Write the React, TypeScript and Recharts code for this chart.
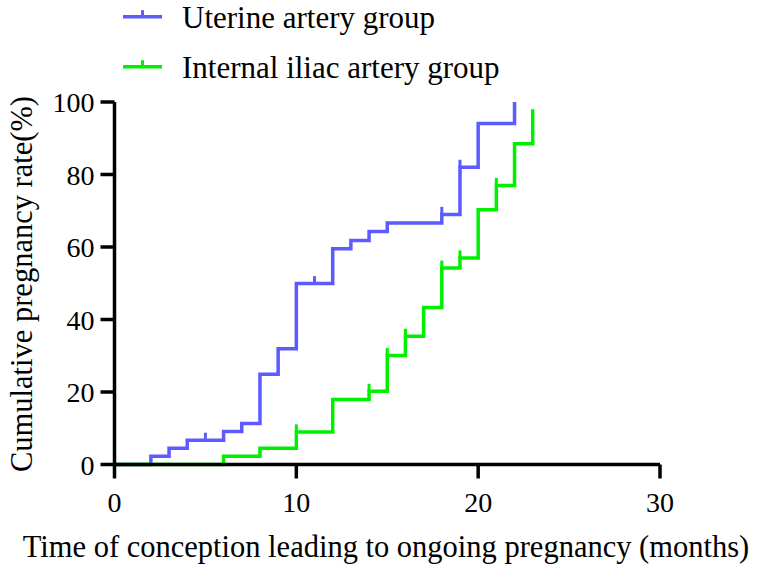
import { ComposedChart, Line, Scatter, XAxis, YAxis, Legend } from 'recharts';

const BLUE = '#5b5bff';
const GREEN = '#00f000';
const FONT = '"Liberation Serif", serif';

// Kaplan-Meier style steps: [month, cumulative %]
const uterineSteps = [
  { x: 0, y: 0 }, { x: 2, y: 2.3 }, { x: 3, y: 4.5 }, { x: 4, y: 6.7 },
  { x: 6, y: 9.1 }, { x: 7, y: 11.3 }, { x: 8, y: 24.9 }, { x: 9, y: 31.9 },
  { x: 10, y: 49.9 }, { x: 12, y: 59.5 }, { x: 13, y: 61.8 }, { x: 14, y: 64.3 },
  { x: 15, y: 66.6 }, { x: 18, y: 69.0 }, { x: 19, y: 82.0 }, { x: 20, y: 94.1 },
  { x: 22, y: 100 },
];
const uterineCensored = [
  { x: 5, y: 6.7 }, { x: 11, y: 49.9 }, { x: 18, y: 69.0 }, { x: 19, y: 82.0 },
];

const iliacSteps = [
  { x: 0, y: 0 }, { x: 6, y: 2.3 }, { x: 8, y: 4.5 }, { x: 10, y: 9.0 },
  { x: 12, y: 17.9 }, { x: 14, y: 20.2 }, { x: 15, y: 30.1 }, { x: 16, y: 35.4 },
  { x: 17, y: 43.3 }, { x: 18, y: 54.2 }, { x: 19, y: 57.0 }, { x: 20, y: 70.3 },
  { x: 21, y: 77.0 }, { x: 22, y: 88.5 }, { x: 23, y: 98.0 },
];
const iliacCensored = [
  { x: 10, y: 9.0 }, { x: 14, y: 20.2 }, { x: 15, y: 30.1 }, { x: 16, y: 35.4 },
  { x: 18, y: 54.2 }, { x: 19, y: 57.0 }, { x: 21, y: 77.0 },
];

const xTicks = [0, 10, 20, 30];
const yTicks = [0, 20, 40, 60, 80, 100];

const SERIES = [
  { name: 'Uterine artery group', color: BLUE },
  { name: 'Internal iliac artery group', color: GREEN },
];

const textStyle = { fontFamily: FONT, fill: '#000', fontWeight: 400 };

const censorMark = (color: string) => (p: any) => (
  <line x1={p.cx} x2={p.cx} y1={p.cy} y2={p.cy - 7.5} stroke={color} strokeWidth={3} />
);

const XTick = (p: any) => (
  <g>
    <text x={p.x} y={p.y + 20.5} textAnchor="middle" style={{ ...textStyle, fontSize: 28 }}>
      {String(p.payload.value)}
    </text>
  </g>
);

const YTick = (p: any) => (
  <g>
    <text x={p.x} y={p.y + 10} textAnchor="end" style={{ ...textStyle, fontSize: 28 }}>
      {String(p.payload.value)}
    </text>
  </g>
);

function LegendBox() {
  return (
    <svg width={757} height={95}>
      {SERIES.map((s, i) => {
        const y = 16.7 + i * 50;
        return (
          <g key={s.name}>
            <line x1={123} x2={162} y1={y} y2={y} stroke={s.color} strokeWidth={3.5} />
            <line x1={142.5} x2={142.5} y1={y} y2={y - 6.5} stroke={s.color} strokeWidth={3} />
            <text x={182} y={y + 10.8} style={{ ...textStyle, fontSize: 31 }}>
              {s.name}
            </text>
          </g>
        );
      })}
    </svg>
  );
}

export default function App() {
  const axisStroke = { stroke: '#000', strokeWidth: 3.5 };
  return (
    <div style={{ position: 'absolute', left: 0, top: 0, background: '#fff', fontFamily: FONT }}>
      <ComposedChart width={757} height={569} margin={{ top: 102, right: 97, bottom: 0, left: 0 }}>
        <XAxis
          type="number"
          dataKey="x"
          domain={[0, 30]}
          ticks={xTicks}
          height={104.5}
          tickSize={14}
          tickMargin={13}
          axisLine={axisStroke}
          tickLine={axisStroke}
          tick={XTick}
          label={() => (
            <text x={386} y={557} textAnchor="middle" style={{ ...textStyle, fontSize: 30.5 }}>
              Time of conception leading to ongoing pregnancy (months)
            </text>
          )}
        />
        <YAxis
          type="number"
          dataKey="y"
          domain={[0, 100]}
          ticks={yTicks}
          width={114.5}
          tickSize={14}
          tickMargin={6}
          axisLine={axisStroke}
          tickLine={axisStroke}
          tick={YTick}
          label={() => (
            <text
              x={0}
              y={0}
              transform="translate(32, 284) rotate(-90)"
              textAnchor="middle"
              style={{ ...textStyle, fontSize: 30.5 }}
            >
              Cumulative pregnancy rate(%)
            </text>
          )}
        />
        <Legend
          verticalAlign="middle"
          layout="horizontal"
          wrapperStyle={{ top: 0, left: 0, width: 757, height: 95 }}
          content={() => <LegendBox />}
        />
        <Line
          data={uterineSteps}
          dataKey="y"
          type="stepAfter"
          stroke={BLUE}
          strokeWidth={3.5}
          dot={false}
          activeDot={false}
          isAnimationActive={false}
        />
        <Line
          data={iliacSteps}
          dataKey="y"
          type="stepAfter"
          stroke={GREEN}
          strokeWidth={3.5}
          dot={false}
          activeDot={false}
          isAnimationActive={false}
        />
        <Scatter data={uterineCensored} dataKey="y" shape={censorMark(BLUE)} isAnimationActive={false} />
        <Scatter data={iliacCensored} dataKey="y" shape={censorMark(GREEN)} isAnimationActive={false} />
      </ComposedChart>
    </div>
  );
}
